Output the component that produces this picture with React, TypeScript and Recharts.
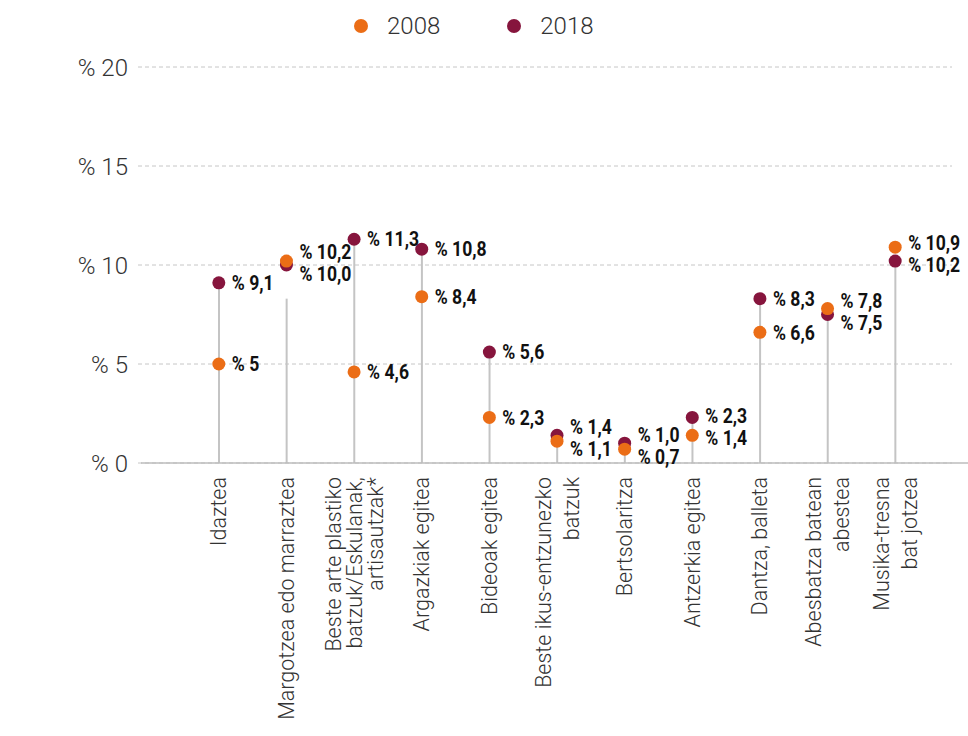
import React from "react";
import {
  ComposedChart,
  Bar,
  Line,
  XAxis,
  YAxis,
  CartesianGrid,
  ReferenceLine,
  LabelList,
} from "recharts";

const categories = [
  "Idaztea",
  "Margotzea edo marraztea",
  "Beste arte plastiko\nbatzuk/Eskulanak,\nartisautzak*",
  "Argazkiak egitea",
  "Bideoak egitea",
  "Beste ikus-entzunezko\nbatzuk",
  "Bertsolaritza",
  "Antzerkia egitea",
  "Dantza, balleta",
  "Abesbatza batean\nabestea",
  "Musika-tresna\nbat jotzea",
];

const values2008 = [5, 10.2, 4.6, 8.4, 2.3, 1.1, 0.7, 1.4, 6.6, 7.8, 10.9];
const values2018 = [9.1, 10.0, 11.3, 10.8, 5.6, 1.4, 1.0, 2.3, 8.3, 7.5, 10.2];
const stemTops = [9.1, 8.3, 11.3, 10.8, 5.6, 1.4, 1.0, 2.3, 8.3, 7.5, 10.2];

const labels2008 = ["% 5", "% 10,2", "% 4,6", "% 8,4", "% 2,3", "% 1,1", "% 0,7", "% 1,4", "% 6,6", "% 7,8", "% 10,9"];
const labels2018 = ["% 9,1", "% 10,0", "% 11,3", "% 10,8", "% 5,6", "% 1,4", "% 1,0", "% 2,3", "% 8,3", "% 7,5", "% 10,2"];

const yTicks = [0, 5, 10, 15, 20];
const yTickLabel = (v: number) => `% ${v}`;
const seriesNames = ["2008", "2018"];

const ORANGE = "#EB6D16";
const PURPLE = "#86153D";

const CHART_W = 968;
const CHART_H = 736;
const X_AXIS_H = 30;
const MARGIN = { top: 67, right: 16, bottom: 273 - X_AXIS_H, left: 0 };
const Y_MAX = 20;
const PLOT_H = CHART_H - MARGIN.top - MARGIN.bottom - X_AXIS_H;
const PX_PER_UNIT = PLOT_H / Y_MAX;
const MIN_SEP = 22;

const data = categories.map((name, i) => ({
  name,
  v2008: values2008[i],
  v2018: values2018[i],
  stem: stemTops[i],
}));

const CatTick = (props: any) => {
  const { x, y, payload } = props;
  const lines: string[] = String(payload.value).split("\n");
  const n = lines.length;
  const pitch = n >= 3 ? 21 : 28;
  const top = y + 6;
  return (
    <g>
      {lines.map((ln, i) => {
        const bx = x + 7.5 + (i - (n - 1) / 2) * pitch;
        return (
          <text
            key={i}
            transform={`translate(${bx},${top}) rotate(-90)`}
            textAnchor="end"
            fontFamily="Roboto"
            fontWeight={300}
            fontSize={21.5}
            fill="#333"
          >
            {ln}
          </text>
        );
      })}
    </g>
  );
};

const makeLabel = (mine: number[], other: number[], texts: string[]) => (props: any) => {
  const { index } = props;
  const vx = props.x ?? props.viewBox?.x;
  const vy = props.y ?? props.viewBox?.y;
  const a = mine[index];
  const b = other[index];
  const sep = Math.abs(a - b) * PX_PER_UNIT;
  let ly = vy;
  if (sep < MIN_SEP) {
    const mid = vy + ((a - b) * PX_PER_UNIT) / 2;
    ly = a >= b ? mid - MIN_SEP / 2 : mid + MIN_SEP / 2;
  }
  return (
    <text
      transform={`translate(${vx + 13},${ly}) scale(0.88,1)`}
      dy="0.36em"
      fontFamily="Roboto"
      fontWeight={700}
      fontSize={20}
      fill="#111"
    >
      {texts[index]}
    </text>
  );
};

const AxisLine0 = (p: any) => (
  <line x1={p.x1 + 3} y1={p.y1} x2={p.x2 + 16} y2={p.y2} stroke="#bdbdbd" strokeWidth={1.5} />
);

const LegendBox = () => (
  <div
    style={{
      position: "absolute",
      left: 354,
      top: 12,
      display: "flex",
      alignItems: "center",
      fontFamily: "Roboto",
      fontWeight: 300,
      fontSize: 24,
      color: "#333",
      lineHeight: "28px",
    }}
  >
    {seriesNames.map((s, i) => (
      <div key={s} style={{ display: "flex", alignItems: "center", marginRight: i === 0 ? 67 : 0 }}>
        <span
          style={{
            display: "inline-block",
            width: 14,
            height: 14,
            borderRadius: 7,
            background: i === 0 ? ORANGE : PURPLE,
            marginRight: 19,
          }}
        />
        <span>{s}</span>
      </div>
    ))}
  </div>
);

export default function App() {
  return (
    <div style={{ position: "absolute", left: 0, top: 0, width: CHART_W, height: CHART_H, background: "#fff" }}>
      <ComposedChart width={CHART_W} height={CHART_H} data={data} margin={MARGIN}>
        <CartesianGrid vertical={false} stroke="#c6c6c6" strokeDasharray="4 3" />
        <XAxis
          dataKey="name"
          height={X_AXIS_H}
          padding={{ left: 47, right: 23 }}
          axisLine={false}
          tickLine={false}
          interval={0}
          tick={<CatTick />}
        />
        <YAxis
          width={138}
          domain={[0, Y_MAX]}
          ticks={yTicks}
          tickFormatter={yTickLabel}
          axisLine={false}
          tickLine={false}
          tickSize={0}
          tickMargin={10}
          tick={{ fontFamily: "Roboto", fontWeight: 300, fontSize: 24, fill: "#333" }}
        />
        <ReferenceLine y={0} shape={AxisLine0} />
        <Bar dataKey="stem" barSize={2} fill="#c4c4c4" isAnimationActive={false} />
        <Line
          dataKey="v2018"
          stroke="none"
          isAnimationActive={false}
          dot={{ r: 6.5, fill: PURPLE, stroke: "none" }}
          activeDot={false}
        >
          <LabelList dataKey="v2018" content={makeLabel(values2018, values2008, labels2018)} />
        </Line>
        <Line
          dataKey="v2008"
          stroke="none"
          isAnimationActive={false}
          dot={{ r: 6.5, fill: ORANGE, stroke: "none" }}
          activeDot={false}
        >
          <LabelList dataKey="v2008" content={makeLabel(values2008, values2018, labels2008)} />
        </Line>
      </ComposedChart>
      <LegendBox />
    </div>
  );
}
